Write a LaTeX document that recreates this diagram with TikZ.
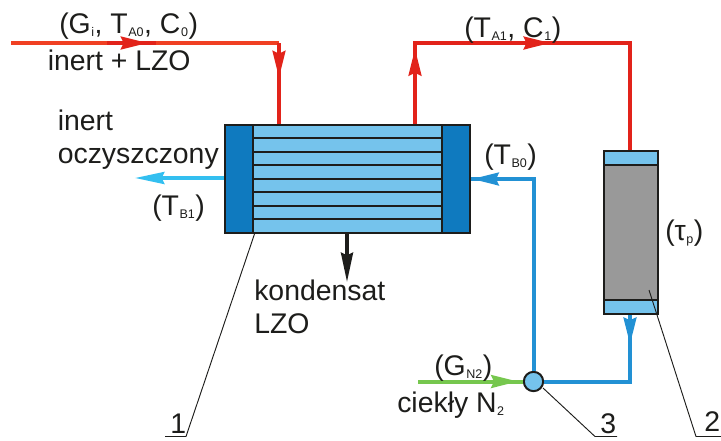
\documentclass[tikz,border=0pt]{standalone}
\usepackage{fontspec}
\setmainfont{Liberation Sans}
\usepackage{tikz}
\usetikzlibrary{arrows.meta, decorations.markings}
\definecolor{gasred}{HTML}{E2231A}
\definecolor{feedred}{HTML}{F04023}
\definecolor{coolblue}{HTML}{2291D4}
\definecolor{paleblue}{HTML}{75C3EC}
\definecolor{headblue}{HTML}{0F7ABF}
\definecolor{ventblue}{HTML}{33BFF0}
\definecolor{nitrogreen}{HTML}{76C74E}
\definecolor{inkblack}{HTML}{1D1D1B}
\newcommand{\lowsub}[1]{\kern0.4pt\raisebox{-2.6pt}{\fontsize{9.4pt}{10pt}\selectfont #1}\kern0.4pt}
\tikzstyle{flow} = [line width=3pt, line join=miter]
\tikzstyle{part} = [rectangle, draw=inkblack, line width=1.5pt, inner sep=0pt]
\tikzstyle{tag} = [anchor=base west, inner sep=0pt, text=inkblack, font=\fontsize{21.3pt}{24pt}\selectfont]
\tikzstyle{leader} = [draw=inkblack, line width=0.7pt]
\tikzstyle{endtip} = [-{Stealth[length=22pt, width=9pt, inset=2pt]}, line width=2.5pt]
\tikzset{
  tipone/.style={postaction={decorate}, decoration={markings,
    mark=at position #1 with {\arrow{Stealth[length=20pt, width=9.5pt, inset=2pt]}}}},
  tiptwo/.style 2 args={postaction={decorate}, decoration={markings,
    mark=at position #1 with {\arrow{Stealth[length=20pt, width=9.5pt, inset=2pt]}},
    mark=at position #2 with {\arrow{Stealth[length=20pt, width=9.5pt, inset=2pt]}}}}
}
\begin{document}
\begin{tikzpicture}[x=0.75pt, y=-0.75pt]
  \useasboundingbox (0,0) rectangle (721,440);

  % Condenser
  \node[part, fill=paleblue, minimum width=183pt, minimum height=81pt] (condenser) at (347,178.5) {};
  \node[part, fill=headblue, minimum width=21pt, minimum height=81pt] (headL) at (239,178.5) {};
  \node[part, fill=headblue, minimum width=21pt, minimum height=81pt] (headR) at (455.5,178.5) {};
  \foreach \y in {138,151.7,165,179,192,206,219}
    \draw[inkblack, line width=1.5pt] (253,\y) -- (441.5,\y);

  % Adsorber
  \node[part, fill=black!40, minimum width=40.5pt, minimum height=122pt] (column) at (631,232.5) {};
  \node[part, fill=paleblue, minimum width=40.5pt, minimum height=10.5pt] (capT) at (631,158) {};
  \node[part, fill=paleblue, minimum width=40.5pt, minimum height=10.5pt] (capB) at (631,307) {};

  % Mixing point
  \node[circle, draw=inkblack, line width=1.5pt, fill=paleblue, minimum size=14.5pt, inner sep=0pt] (mixer) at (533.5,381.5) {};

  % Corner points
  \coordinate (feedIn) at (11,43);
  \coordinate (feedKnee) at (279,43);
  \coordinate (feedDarkA) at (107,43);
  \coordinate (feedDarkB) at (156,43);
  \coordinate (outKnee) at (415,43);
  \coordinate (colKnee) at (630,43);
  \coordinate (coolKnee) at (533.5,179);
  \coordinate (backKnee) at (630,381.5);
  \coordinate (nitroIn) at (418,381.5);
  \coordinate (ventOut) at (135,178);
  \coordinate (condOut) at (347,282);

  % Gas
  \draw[flow, feedred] (feedIn) -- (feedKnee);
  \draw[flow, gasred, tipone=30.5pt] (feedDarkA) -- (feedDarkB);
  \draw[flow, gasred, tipone=26pt] (feedKnee) -- (feedKnee |- condenser.north);
  \draw[flow, gasred, tiptwo={56pt}{162pt}] (outKnee |- condenser.north) -- (outKnee) -- (colKnee) -- (colKnee |- capT.north);

  % Coolant
  \draw[flow, coolblue, tipone=190pt] (mixer.north) -- (coolKnee) -- (headR.east |- coolKnee);
  \draw[flow, coolblue, tipone=22pt] (capB.south -| backKnee) -- (backKnee) -- (mixer.east);
  \draw[flow, nitrogreen, tipone=75pt] (nitroIn) -- (mixer.west);
  \draw[endtip, ventblue] (headL.west |- ventOut) -- (ventOut);
  \draw[endtip, inkblack] (condOut |- condenser.south) -- (condOut);

  % Leaders
  \coordinate (lead1) at (255,232.5);
  \coordinate (lead2) at (649,290);
  \coordinate (lead3) at (543,388);
  \draw[leader] (lead1) -- (186,436.5) -- (165,436.5);
  \draw[leader] (lead2) -- (696,436.5) -- (721,436.5);
  \draw[leader] (lead3) -- (595,436.5) -- (617,436.5);

  % Labels
  \node[tag] (feedvals) at (59,33) {(G\lowsub{i}, T\lowsub{A0}, C\lowsub{0})};
  \node[tag] (feedname) at (47.5,70) {inert + LZO};
  \node[tag] (ventA) at (57.5,130) {inert};
  \node[tag] (ventB) at (57.5,163) {oczyszczony};
  \node[tag] (ventT) at (152,215) {(T\lowsub{B1})};
  \node[tag] (outvals) at (464,37) {(T\lowsub{A1}, C\lowsub{1})};
  \node[tag] (coolT) at (484,164) {(T\lowsub{B0})};
  \node[tag] (tau) at (665,240) {(τ\lowsub{p})};
  \node[tag] (condA) at (254,300) {kondensat};
  \node[tag] (condB) at (254,333) {LZO};
  \node[tag] (nitroG) at (434,375) {(G\lowsub{N2})};
  \node[tag] (nitroL) at (397,412) {ciekły N\lowsub{2}};
  \node[tag] (num1) at (170,433) {1};
  \node[tag] (num2) at (704,431) {2};
  \node[tag] (num3) at (600,433) {3};
\end{tikzpicture}
\end{document}
